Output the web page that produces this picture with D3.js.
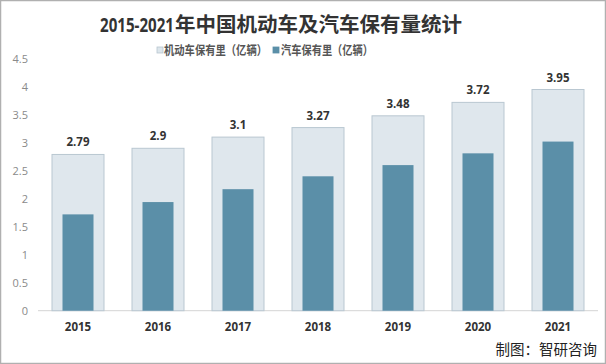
<!DOCTYPE html>
<html><head><meta charset="utf-8">
<script src="https://cdn.jsdelivr.net/npm/d3@7"></script>
<style>html,body{margin:0;padding:0;background:#fff;}svg{display:block;}</style>
</head><body>
<script>
const years = ["2015","2016","2017","2018","2019","2020","2021"];
const motorVehicles = [2.79, 2.9, 3.1, 3.27, 3.48, 3.72, 3.95];
const cars = [1.72, 1.94, 2.17, 2.40, 2.60, 2.81, 3.02];
const yTicks = [0, 0.5, 1, 1.5, 2, 2.5, 3, 3.5, 4, 4.5];
const seriesNames = ["机动车保有里（亿辆）", "汽车保有里（亿辆）"];
const titleLatin = "2015-2021";
const titleCJK = "年中国机动车及汽车保有量统计";
const sourceText = "制图：智研咨询";

const W = 606, H = 364;
const svg = d3.select("body").append("svg").attr("width", W).attr("height", H);
const font = "'Noto Sans CJK SC','Noto Sans',sans-serif";

svg.append("rect").attr("x",0.5).attr("y",0.5).attr("width",W-1).attr("height",H-1)
  .attr("fill","#fff").attr("stroke","#b0b0b0").attr("stroke-width",1.5);

const x = d3.scaleBand().domain(years).range([38, 598]);
const y = d3.scaleLinear().domain([0, 4.5]).range([310.7, 58.7]);

// title: Latin part condensed to fit, CJK part after it
const tg = svg.append("g");
const tl = tg.append("text").attr("x", 0).attr("y", 0).attr("fill","#333").attr("font-weight","bold")
  .attr("font-family", "'Open Sans','Liberation Sans',sans-serif").attr("font-size", 20).text(titleLatin);
const natural = tl.node().getComputedTextLength();
tg.attr("transform", `translate(100,32) scale(${74 / natural},1)`);
svg.append("text").attr("x", 175).attr("y", 32).attr("fill","#333").attr("font-weight","bold")
  .attr("font-family", font).attr("font-size", 20.5).text(titleCJK);

// legend
const legend = [{c:"#dde6ec", s:"#b8c6d0", x:157, tx:164, w:103}, {c:"#5b8fa8", s:"#5b8fa8", x:273, tx:281, w:92}];
legend.forEach((l,i)=>{
  svg.append("rect").attr("x", l.x).attr("y", 47).attr("width", 6).attr("height", 6)
    .attr("fill", l.c).attr("stroke", l.s).attr("stroke-width",0.8);
  svg.append("text").attr("x", l.tx).attr("y", 55).attr("font-family", font)
    .attr("font-weight","bold").attr("font-size", 12.5).attr("fill","#555")
    .attr("textLength", l.w).attr("lengthAdjust","spacingAndGlyphs").text(seriesNames[i]);
});

// y axis
const yAxis = svg.append("g").attr("transform","translate(28,0)")
  .call(d3.axisLeft(y).tickValues(yTicks).tickSize(0).tickPadding(0).tickFormat(d=>String(d)));
yAxis.select(".domain").remove();
yAxis.selectAll("text").attr("font-family","'Open Sans','DejaVu Sans',sans-serif")
  .attr("font-size", 11).attr("fill","#8a8a8a");

// x axis line
svg.append("line").attr("x1", 38).attr("x2", 598).attr("y1", y(0)).attr("y2", y(0))
  .attr("stroke","#d4d4d4").attr("stroke-width",1);

const outerW = 52, innerW = 31;
svg.selectAll(".outer").data(years).enter().append("rect")
  .attr("x", d => x(d) + x.bandwidth()/2 - outerW/2)
  .attr("width", outerW)
  .attr("y", (d,i) => y(motorVehicles[i]))
  .attr("height", (d,i) => y(0) - y(motorVehicles[i]))
  .attr("fill","#dfe7ed").attr("stroke","#b9c7d1").attr("stroke-width",1);

svg.selectAll(".inner").data(years).enter().append("rect")
  .attr("x", d => x(d) + x.bandwidth()/2 - innerW/2)
  .attr("width", innerW)
  .attr("y", (d,i) => y(cars[i]))
  .attr("height", (d,i) => y(0) - y(cars[i]))
  .attr("fill","#5b8fa8");

svg.selectAll(".lbl").data(years).enter().append("text")
  .attr("x", d => x(d) + x.bandwidth()/2)
  .attr("y", (d,i) => y(motorVehicles[i]) - 8)
  .attr("text-anchor","middle").attr("font-family","'Open Sans',sans-serif")
  .attr("font-weight","bold").attr("font-size", 11.5).attr("fill","#333")
  .text((d,i)=>String(motorVehicles[i]));

const xAxis = svg.append("g").attr("transform",`translate(0,${y(0)})`)
  .call(d3.axisBottom(x).tickSize(0).tickPadding(12));
xAxis.select(".domain").remove();
xAxis.selectAll("text").attr("font-family","'Open Sans',sans-serif")
  .attr("font-weight","bold").attr("font-size", 11.5).attr("fill","#333");

svg.append("text").attr("x", 597).attr("y", 355).attr("text-anchor","end")
  .attr("font-family", font).attr("font-size", 14.5).attr("fill","#222").text(sourceText);
</script>
</body></html>
